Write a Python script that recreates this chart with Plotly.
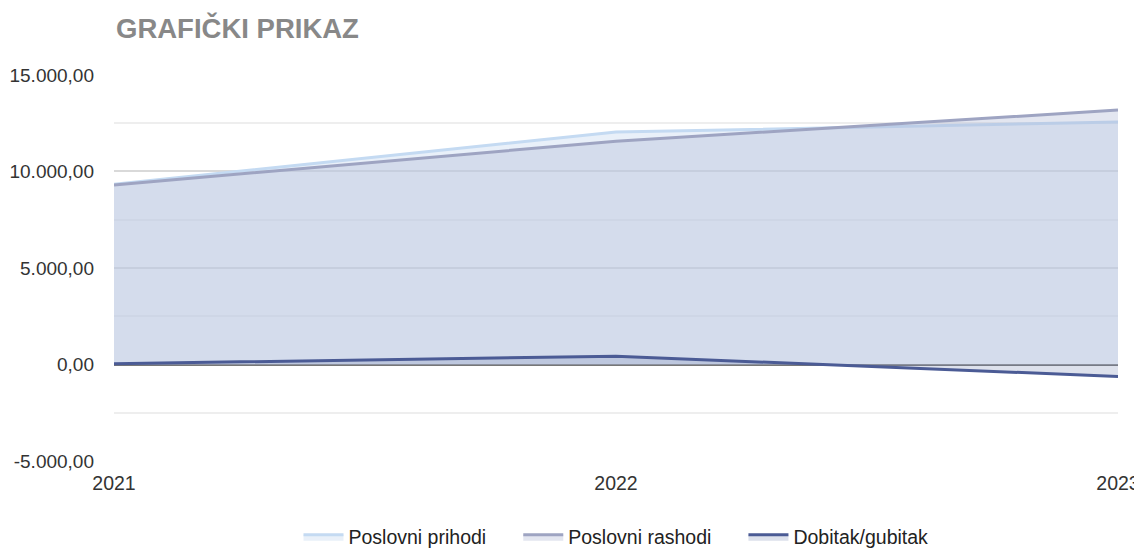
import plotly.graph_objects as go

years = [2021, 2022, 2023]
year_labels = ["2021", "2022", "2023"]
prihodi = [9340, 12040, 12560]
rashodi = [9300, 11570, 13180]
dobitak = [40, 430, -620]
y_tick_vals = [-5000, 0, 5000, 10000, 15000]
y_tick_text = ["-5.000,00", "0,00", "5.000,00", "10.000,00", "15.000,00"]
series_names = ["Poslovni prihodi", "Poslovni rashodi", "Dobitak/gubitak"]

FONT = "Liberation Sans, Arial, sans-serif"
PAD = "\u00a0" * 5

fig = go.Figure()
fig.add_trace(go.Scatter(
    x=years, y=prihodi, name=series_names[0] + PAD, mode="lines",
    line=dict(color="#c4daf2", width=3), fill="tozeroy",
    fillcolor="rgba(206,222,242,0.45)"))
fig.add_trace(go.Scatter(
    x=years, y=rashodi, name=series_names[1] + PAD, mode="lines",
    line=dict(color="#9ea4c2", width=3), fill="tozeroy",
    fillcolor="rgba(170,180,210,0.33)"))
fig.add_trace(go.Scatter(
    x=years, y=dobitak, name=series_names[2], mode="lines",
    line=dict(color="#4b5b95", width=3), fill="tozeroy",
    fillcolor="rgba(120,135,180,0.25)"))

W, H = 1134, 548
fig.update_layout(
    width=W, height=H,
    margin=dict(l=106, r=24, t=66, b=94, autoexpand=False),
    paper_bgcolor="white", plot_bgcolor="white",
    font=dict(family=FONT, size=19, color="#333333"),
    title=dict(text="<b>GRAFIČKI PRIKAZ</b>", xref="container", yref="container",
               x=108/W, xanchor="left", y=1-20/H, yanchor="middle",
               font=dict(family=FONT, size=27.5, color="#888888")),
    showlegend=True,
    legend=dict(orientation="h", xref="paper", x=0.5, xanchor="center",
                yref="paper", y=-75/388, yanchor="middle",
                font=dict(family=FONT, size=19.5, color="#222222"),
                itemwidth=40, traceorder="normal"),
    xaxis=dict(range=[2021, 2023], tickvals=years, ticktext=year_labels,
               showgrid=False, zeroline=False, showline=False, automargin=False,
               ticks="", ticklabelstandoff=7, fixedrange=True,
               tickfont=dict(size=19.5)),
    yaxis=dict(range=[-5050, 15050], tickvals=y_tick_vals, ticktext=y_tick_text,
               showgrid=True, gridcolor="#d9d9d9", gridwidth=1.5, automargin=False,
               minor=dict(tickvals=[-2500, 2500, 7500, 12500], showgrid=True,
                          gridcolor="#eeeeee", gridwidth=1.5),
               zeroline=True, zerolinecolor="#777777", zerolinewidth=2,
               showline=False, ticks="", ticklabelstandoff=19),
)

fig.write_html("out.html")
